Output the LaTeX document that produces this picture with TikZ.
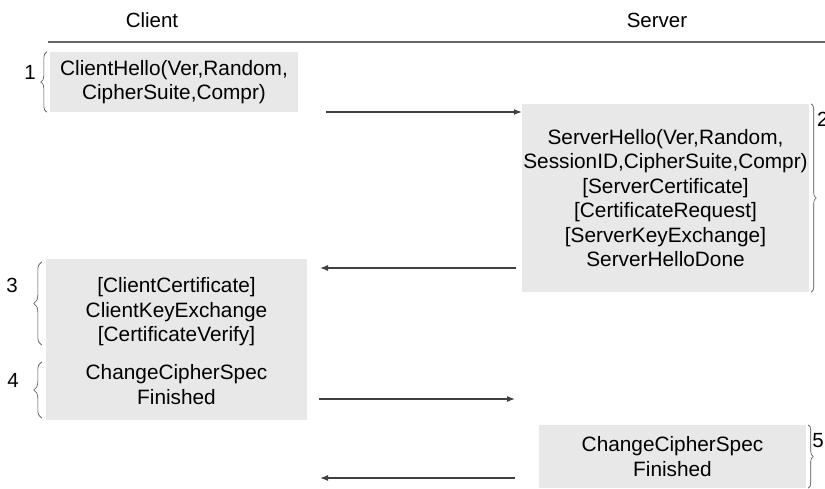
\documentclass[tikz,border=0pt]{standalone}
\usepackage{fontspec}
\setmainfont{Liberation Sans}
\usetikzlibrary{arrows.meta, decorations.pathreplacing, positioning, calc}
\definecolor{boxgray}{HTML}{E8E8E8}

\begin{document}
\begin{tikzpicture}[x=1pt, y=1pt,
    msgbox/.style={fill=boxgray, inner sep=0pt, align=center, font=\fontsize{20.8}{24.5}\selectfont},
    msg/.style={-{Latex[length=8pt,width=6pt]}, line width=1.1pt, draw=black!75},
    grp/.style={decorate, decoration={brace, amplitude=#1}, draw=black!70, line width=0.6pt},
    grp/.default=6pt,
    num/.style={font=\fontsize{20.5}{24}\selectfont, inner sep=0pt}]
  \useasboundingbox (0,0) rectangle (825,488);

  % header
  \node[num] (client) at (152,468) {Client};
  \node[num] (server) at (657,468) {Server};
  \draw[line width=1.2pt, black!60] (48,446) -- (825,446);

  % message boxes
  \node[msgbox, minimum width=248, minimum height=60] (hello) at (174,406)
    {ClientHello(Ver,Random,\\CipherSuite,Compr)};
  \node[msgbox, minimum width=287, minimum height=188] (srvhello) at (665.5,290)
    {ServerHello(Ver,Random,\\SessionID,CipherSuite,Compr)\\{[ServerCertificate]}\\
     {[CertificateRequest]}\\{[ServerKeyExchange]}\\ServerHelloDone};
  \node[msgbox, minimum width=261, minimum height=106] (clkey) at (176.5,176)
    {{[ClientCertificate]}\\ClientKeyExchange\\{[CertificateVerify]}};
  \node[msgbox, minimum width=261, minimum height=71] (clfin) at (176.5,103.5)
    {ChangeCipherSpec\\Finished};
  \node[msgbox, minimum width=267, minimum height=63] (srvfin) at (672.5,31.5)
    {ChangeCipherSpec\\Finished};

  % braces and step numbers
  \draw[grp=6pt] ($(hello.south west)+(-3,0)$) -- ($(hello.north west)+(-3,0)$);
  \draw[grp=5pt] ($(srvhello.north east)+(2,0)$) -- ($(srvhello.south east)+(2,0)$);
  \draw[grp=8pt] ($(clkey.south west)+(-4,20)$) -- ($(clkey.north west)+(-4,-3)$);
  \draw[grp=8pt] ($(clfin.south west)+(-4,2)$) -- ($(clfin.north west)+(-4,-13)$);
  \draw[grp=5pt] ($(srvfin.north east)+(2,0)$) -- ($(srvfin.south east)+(2,0)$);
  \node[num] (n1) at (30,416) {1};
  \node[num, anchor=west] (n2) at (817,369) {2};
  \node[num] (n3) at (12,203) {3};
  \node[num] (n4) at (13,108) {4};
  \node[num] (n5) at (818,47) {5};

  % messages
  \coordinate (m1) at (326,376);
  \coordinate (m2) at (516,220);
  \coordinate (m2e) at (320,220);
  \coordinate (m3) at (319,89);
  \coordinate (m3e) at (515,89);
  \coordinate (m4) at (515,10);
  \coordinate (m4e) at (320,10);
  \draw[msg] (m1) -- (srvhello.west |- m1);
  \draw[msg] (m2) -- (m2e);
  \draw[msg] (m3) -- (m3e);
  \draw[msg] (m4) -- (m4e);
\end{tikzpicture}
\end{document}
